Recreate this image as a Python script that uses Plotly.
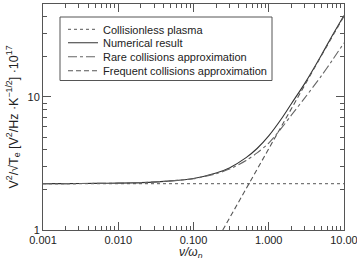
import plotly.graph_objects as go

# data
x_vals = [0.001, 0.002, 0.005, 0.01, 0.02, 0.05, 0.1, 0.2, 0.3, 0.5, 0.7, 1.0, 1.5, 2.0, 3.0, 5.0, 7.0, 10.0]
collisionless = [2.23] * len(x_vals)
numerical = [2.23, 2.23, 2.24, 2.25, 2.27, 2.34, 2.44, 2.68, 2.93, 3.5, 4.1, 5.1, 6.95, 8.9, 12.6, 20.6, 29.0, 41.0]
rare = [2.23, 2.23, 2.24, 2.25, 2.27, 2.34, 2.43, 2.65, 2.87, 3.33, 3.8, 4.5, 5.9, 7.3, 9.8, 14.4, 18.9, 25.5]
freq_x = [0.245, 0.5, 1.0, 2.0, 5.0, 10.0]
frequent = [1.0, 2.05, 4.1, 8.2, 20.4, 40.5]
series_names = ["Collisionless plasma", "Numerical result",
                "Rare collisions approximation", "Frequent collisions approximation"]

x_ticks = [0.001, 0.01, 0.1, 1, 10]
x_ticktext = ["0.001", "0.010", "0.100", "1.000", "10.00"]
y_ticks = [1, 10]
y_ticktext = ["1", "10"]
x_title = "<i>ν/ω<sub>p</sub></i>"
y_title = "V<sup>2</sup>/√T<sub>e</sub> [V<sup>2</sup>/Hz ·K<sup>−1/2</sup>] ·10<sup>17</sup>"

x_minor = [m * 10 ** e for e in range(-3, 1) for m in range(2, 10)]
y_minor = [m * 10 ** e for e in range(0, 2) for m in range(2, 10) if m * 10 ** e <= 50]

fig = go.Figure()
fig.add_trace(go.Scatter(x=x_vals, y=collisionless, mode="lines", name=series_names[0], legend="legend",
                         line=dict(color="#777777", width=1.2, dash="dot")))
fig.add_trace(go.Scatter(x=x_vals, y=numerical, mode="lines", name=series_names[1], legend="legend2",
                         line=dict(color="#333333", width=1.1, shape="spline", smoothing=0.8)))
fig.add_trace(go.Scatter(x=x_vals, y=rare, mode="lines", name=series_names[2], legend="legend3",
                         line=dict(color="#666666", width=1.1, dash="dashdot", shape="spline", smoothing=0.8)))
fig.add_trace(go.Scatter(x=freq_x, y=frequent, mode="lines", name=series_names[3], legend="legend4",
                         line=dict(color="#555555", width=1.1, dash="5px,3px")))

axis_common = dict(type="log", showgrid=False, zeroline=False, showline=True, linecolor="#555555",
                   linewidth=1, mirror="ticks", ticks="inside", ticklen=8, tickcolor="#555555",
                   automargin=False, ticklabeloverflow="allow",
                   tickfont=dict(family="Liberation Sans, Arial", size=11, color="#222222"))

# legend box geometry (paper coords)
L_W = 301.0
L_H = 226.0
def px_x(px):
    return (px - 43) / L_W
def px_y(py):
    return (230 - py) / L_H

leg_common = dict(xanchor="left", yanchor="middle", bgcolor="rgba(0,0,0,0)", borderwidth=0,
                  font=dict(size=11, color="#222222"), itemwidth=30)
leg_rows = [29.3, 42.7, 56.7, 70.7]

fig.update_layout(
    width=357, height=258,
    margin=dict(l=43, r=13, t=4, b=28),
    paper_bgcolor="white", plot_bgcolor="white",
    font=dict(family="Liberation Sans, Arial", size=12, color="#222222"),
    showlegend=True,
    legend=dict(leg_common, x=px_x(63), y=px_y(leg_rows[0])),
    legend2=dict(leg_common, x=px_x(63), y=px_y(leg_rows[1])),
    legend3=dict(leg_common, x=px_x(63), y=px_y(leg_rows[2])),
    legend4=dict(leg_common, x=px_x(63), y=px_y(leg_rows[3])),
    shapes=[dict(type="rect", xref="paper", yref="paper", x0=px_x(60), x1=px_x(272),
                 y0=px_y(80.5), y1=px_y(17), fillcolor="white", line=dict(color="#555555", width=1),
                 layer="above")],
    annotations=[dict(text=x_title, xref="paper", yref="paper", x=px_x(191), y=px_y(252.5),
                      xanchor="center", yanchor="middle", showarrow=False,
                      font=dict(size=12, color="#222222"))],
    xaxis=dict(axis_common, range=[-3, 1.0003], tickmode="array", tickvals=x_ticks, ticktext=x_ticktext,
               minor=dict(ticks="inside", ticklen=4, tickcolor="#555555", tickmode="array", tickvals=x_minor)),
    yaxis=dict(axis_common, range=[0, 1.699], tickmode="array", tickvals=y_ticks, ticktext=y_ticktext,
               minor=dict(ticks="inside", ticklen=4, tickcolor="#555555", tickmode="array", tickvals=y_minor),
               title=dict(text=y_title, standoff=6, font=dict(size=12.5))),
)

fig.write_html("out.html")
